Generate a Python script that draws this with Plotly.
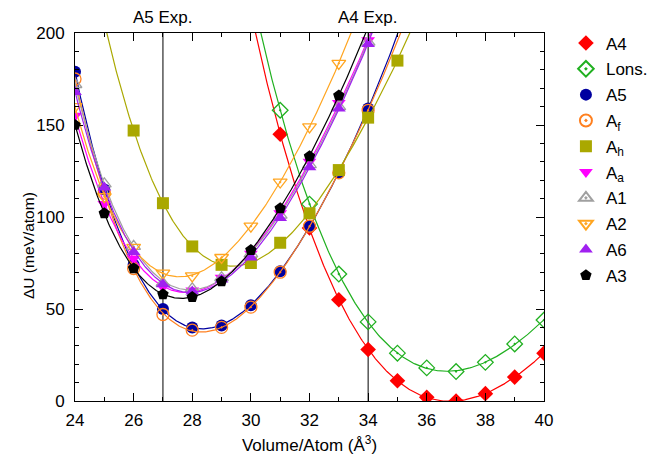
import numpy as np
import plotly.graph_objects as go

# ---------------- data ----------------
vol_A4 = [31, 32, 33, 34, 35, 36, 37, 38, 39, 40]
dU_A4 = [145, 94, 55, 28, 11, 2, 0, 4, 13, 26]

vol_Lons = [31, 32, 33, 34, 35, 36, 37, 38, 39, 40]
dU_Lons = [158, 107, 69, 43, 26, 18, 16, 21, 31, 44]

vol_A5 = [24, 25, 26, 27, 28, 29, 30, 31, 32, 33, 34]
dU_A5 = [179, 115, 74, 50, 40, 41, 52, 70.5, 95, 124, 159]

vol_Af = [24, 25, 26, 27, 28, 29, 30, 31, 32, 33, 34]
dU_Af = [175, 113, 72, 47, 38.5, 40, 51, 70, 95, 124, 158]

vol_Ah = [26, 27, 28, 29, 30, 31, 32, 33, 34, 35]
dU_Ah = [147, 107.5, 84, 74, 75, 86, 102, 125.5, 154, 185]

vol_Aa = [24, 25, 26, 27, 28, 29, 30, 31, 32, 33, 34]
dU_Aa = [155, 107, 77.5, 62, 60, 67, 80, 102, 130, 162, 196]

vol_A1 = [24, 25, 26, 27, 28, 29, 30, 31, 32, 33, 34]
dU_A1 = [172, 118, 84, 64, 61, 67, 80, 101, 128.5, 160, 195]

vol_A2 = [24, 25, 26, 27, 28, 29, 30, 31, 32, 33]
dU_A2 = [160, 111, 83.5, 69.5, 68, 78, 95, 119, 149, 183.5]

vol_A6 = [24, 25, 26, 27, 28, 29, 30, 31, 32, 33, 34]
dU_A6 = [168, 116, 81, 63.5, 59.5, 66, 78, 99.5, 127, 159, 194]

vol_A3 = [24, 25, 26, 27, 28, 29, 30, 31, 32, 33]
dU_A3 = [150, 102, 72, 58, 56.5, 65, 82, 104.7, 133, 166]

exp_volumes = [27, 34]
exp_labels = ["A5 Exp.", "A4 Exp."]

x_ticks = [24, 26, 28, 30, 32, 34, 36, 38, 40]
y_ticks = [0, 50, 100, 150, 200]

series = [
    ("A4", vol_A4, dU_A4, "#ff0000", "diamond", 12),
    ("Lons.", vol_Lons, dU_Lons, "#20b020", "diamond-open-dot", 12),
    ("A5", vol_A5, dU_A5, "#0000a0", "circle", 12),
    ("A<sub>f</sub>", vol_Af, dU_Af, "#ff8020", "circle-open-dot", 12),
    ("A<sub>h</sub>", vol_Ah, dU_Ah, "#aaa800", "square", 12),
    ("A<sub>a</sub>", vol_Aa, dU_Aa, "#ff00ff", "triangle-down", 12),
    ("A1", vol_A1, dU_A1, "#a0a0a0", "triangle-up-open-dot", 12),
    ("A2", vol_A2, dU_A2, "#ffa520", "triangle-down-open-dot", 12),
    ("A6", vol_A6, dU_A6, "#a020f0", "triangle-up", 12),
    ("A3", vol_A3, dU_A3, "#000000", "pentagon", 12),
]

FONT = "Liberation Sans, Arial, Helvetica, sans-serif"
FS = 17

fig = go.Figure()

# vertical experimental-volume lines
for v in exp_volumes:
    fig.add_trace(go.Scatter(x=[v, v], y=[y_ticks[0], y_ticks[-1]], mode="lines",
                             line=dict(color="black", width=1),
                             showlegend=False, hoverinfo="skip"))

for i, (name, xv, yv, col, sym, sz) in enumerate(series):
    xv = np.array(xv, float)
    yv = np.array(yv, float)
    coef = np.polyfit(xv, yv, 4)
    xf = np.linspace(xv.min() - 1.5, xv.max() + 1.5, 400)
    yf = np.polyval(coef, xf)
    fig.add_trace(go.Scatter(x=xf, y=yf, mode="lines",
                             line=dict(color=col, width=1.2),
                             showlegend=False, hoverinfo="skip"))
    openm = "open" in sym
    fig.add_trace(go.Scatter(
        x=xv, y=yv, mode="markers", name=name, legendgroup=f"g{i}",
        marker=dict(symbol=sym, size=sz, color=col,
                    line=dict(color=col, width=1.3 if openm else 0))))

for v, lab in zip(exp_volumes, exp_labels):
    fig.add_annotation(x=v, y=1, xref="x", yref="paper", yanchor="bottom",
                       text=lab, showarrow=False, yshift=4,
                       font=dict(size=FS, color="black", family=FONT))

fig.add_annotation(x=(28 - 75) / 469, y=(401 - 246) / 368, xref="paper", yref="paper",
                   text="ΔU (meV/atom)", textangle=-90, showarrow=False,
                   xanchor="center", yanchor="middle",
                   font=dict(size=15.5, color="black", family=FONT))

axis_common = dict(showline=True, linecolor="black", linewidth=1, mirror="ticks",
                   ticks="inside", ticklen=8, tickwidth=1, tickcolor="black",
                   showgrid=False, zeroline=False, automargin=False,
                   tickfont=dict(size=FS, color="black", family=FONT))

fig.update_xaxes(range=[24, 40], tickvals=x_ticks, **axis_common,
                 minor=dict(dtick=1, ticks="inside", ticklen=4, tickcolor="black"),
                 ticklabelstandoff=4,
                 title=dict(text="Volume/Atom (Å<sup>3</sup>)", standoff=10,
                            font=dict(size=FS, color="black", family=FONT)))
fig.update_yaxes(range=[0, 200], tickvals=y_ticks, **axis_common,
                 minor=dict(dtick=10, ticks="inside", ticklen=4, tickcolor="black"),
                 ticklabelstandoff=6)

fig.update_layout(
    width=649, height=455,
    margin=dict(l=75, r=105, t=33, b=54, autoexpand=False),
    paper_bgcolor="white", plot_bgcolor="white",
    font=dict(family=FONT, size=FS, color="black"),
    legend=dict(xref="container", yref="container", x=0.872, y=0.944,
                xanchor="left", yanchor="top", maxheight=1.0,
                font=dict(size=FS, family=FONT), tracegroupgap=0.7,
                bgcolor="rgba(0,0,0,0)", itemsizing="constant"),
    showlegend=True,
)

fig.write_html("out.html", config={"displayModeBar": False},
               post_script="document.body.style.margin='0px';")
